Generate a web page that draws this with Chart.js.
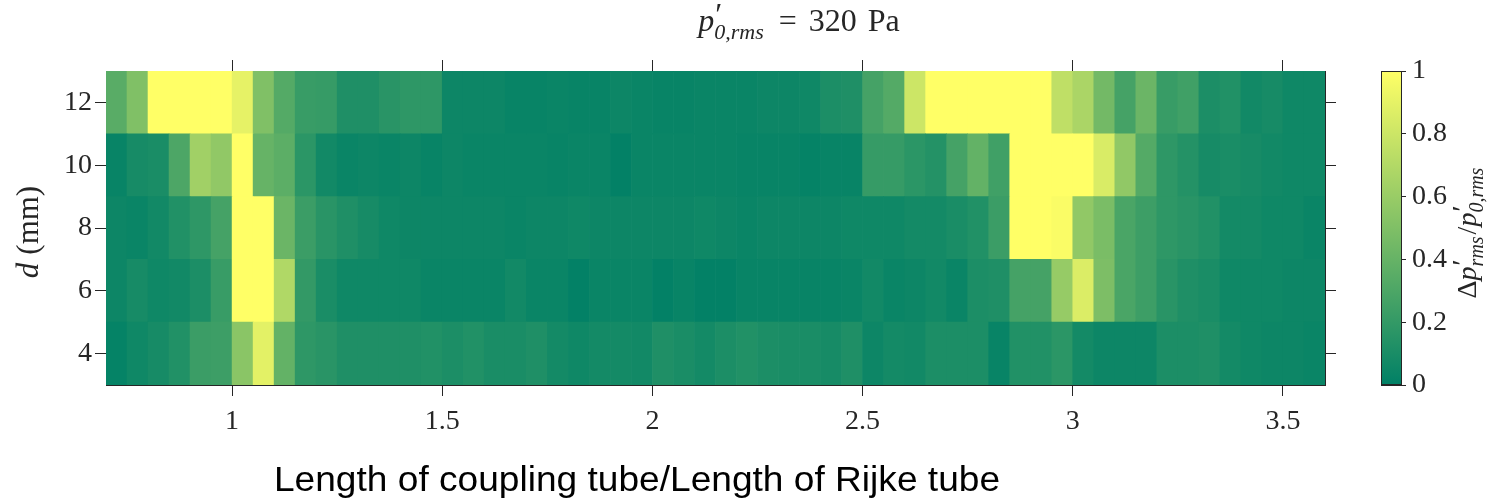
<!DOCTYPE html>
<html>
<head>
<meta charset="utf-8">
<script src="https://cdn.jsdelivr.net/npm/chart.js@4.4.1/dist/chart.umd.min.js"></script>
<style>
  html, body { margin: 0; padding: 0; background: #fff; }
  #wrap { width: 1488px; height: 504px; }
</style>
</head>
<body>
<div id="wrap"><canvas id="heat"></canvas></div>
<script>
// column centres (tube length ratio) and row centres (d, mm)
const xCenters = [0.725, 0.775, 0.825, 0.875, 0.925, 0.975, 1.025, 1.075, 1.125, 1.175,
  1.225, 1.275, 1.325, 1.375, 1.425, 1.475, 1.525, 1.575, 1.625, 1.675,
  1.725, 1.775, 1.825, 1.875, 1.925, 1.975, 2.025, 2.075, 2.125, 2.175,
  2.225, 2.275, 2.325, 2.375, 2.425, 2.475, 2.525, 2.575, 2.625, 2.675,
  2.725, 2.775, 2.825, 2.875, 2.925, 2.975, 3.025, 3.075, 3.125, 3.175,
  3.225, 3.275, 3.325, 3.375, 3.425, 3.475, 3.525, 3.575];
const dValues = [4, 6, 8, 10, 12];

// normalised pressure difference, one array per d row
const row4 = [0.02, 0.06, 0.09, 0.13, 0.23, 0.24, 0.54, 0.89, 0.39, 0.18,
  0.16, 0.12, 0.12, 0.12, 0.12, 0.13, 0.11, 0.13, 0.10, 0.10,
  0.12, 0.08, 0.06, 0.08, 0.08, 0.07, 0.12, 0.10, 0.08, 0.11,
  0.13, 0.11, 0.10, 0.10, 0.09, 0.12, 0.05, 0.08, 0.07, 0.11,
  0.11, 0.11, 0.03, 0.13, 0.13, 0.17, 0.08, 0.05, 0.05, 0.05,
  0.11, 0.11, 0.12, 0.08, 0.06, 0.05, 0.05, 0.04];
const row6 = [0.05, 0.09, 0.06, 0.07, 0.11, 0.22, 1.00, 1.00, 0.69, 0.20,
  0.10, 0.06, 0.06, 0.06, 0.06, 0.04, 0.04, 0.04, 0.04, 0.07,
  0.04, 0.04, 0.01, 0.04, 0.04, 0.04, 0.01, 0.03, 0.01, 0.01,
  0.03, 0.03, 0.03, 0.03, 0.03, 0.04, 0.07, 0.04, 0.05, 0.07,
  0.04, 0.11, 0.12, 0.27, 0.27, 0.59, 0.86, 0.49, 0.29, 0.24,
  0.16, 0.12, 0.10, 0.06, 0.06, 0.06, 0.05, 0.05];
const row8 = [0.05, 0.04, 0.07, 0.13, 0.18, 0.27, 1.00, 1.00, 0.42, 0.23,
  0.16, 0.12, 0.09, 0.06, 0.05, 0.05, 0.05, 0.05, 0.05, 0.04,
  0.05, 0.05, 0.06, 0.05, 0.05, 0.05, 0.05, 0.05, 0.06, 0.05,
  0.04, 0.05, 0.05, 0.05, 0.05, 0.06, 0.06, 0.06, 0.08, 0.08,
  0.10, 0.13, 0.23, 1.00, 1.00, 0.98, 0.57, 0.48, 0.29, 0.24,
  0.18, 0.16, 0.13, 0.08, 0.08, 0.06, 0.06, 0.04];
const row10 = [0.03, 0.09, 0.10, 0.30, 0.63, 0.57, 1.00, 0.40, 0.36, 0.17,
  0.07, 0.04, 0.05, 0.04, 0.05, 0.03, 0.05, 0.04, 0.04, 0.04,
  0.04, 0.03, 0.04, 0.04, 0.01, 0.04, 0.04, 0.04, 0.04, 0.04,
  0.03, 0.03, 0.03, 0.02, 0.03, 0.03, 0.21, 0.21, 0.17, 0.14,
  0.27, 0.39, 0.25, 1.00, 1.00, 1.00, 1.00, 0.85, 0.57, 0.33,
  0.18, 0.14, 0.09, 0.10, 0.09, 0.07, 0.06, 0.06];
const row12 = [0.35, 0.50, 1.00, 1.00, 1.00, 1.00, 0.90, 0.50, 0.33, 0.22,
  0.21, 0.12, 0.12, 0.16, 0.18, 0.18, 0.05, 0.05, 0.05, 0.03,
  0.03, 0.04, 0.03, 0.03, 0.05, 0.04, 0.03, 0.03, 0.04, 0.04,
  0.04, 0.05, 0.05, 0.06, 0.11, 0.12, 0.27, 0.33, 0.80, 1.00,
  1.00, 1.00, 1.00, 1.00, 1.00, 0.75, 0.67, 0.45, 0.27, 0.42,
  0.22, 0.25, 0.11, 0.13, 0.07, 0.09, 0.06, 0.06];
const rows = [row4, row6, row8, row10, row12];

const xTicks = [1, 1.5, 2, 2.5, 3, 3.5];
const yTicks = [4, 6, 8, 10, 12];
const cbTicks = [0, 0.2, 0.4, 0.6, 0.8, 1];

const serif = '"Liberation Serif", "DejaVu Serif", serif';
const ink = '#262626';

// MATLAB "summer" colormap
function summer(v) {
  v = Math.max(0, Math.min(1, v));
  return `rgb(${Math.round(255 * v)},${Math.round(128 + 127 * v)},102)`;
}

function fixTicks(list) {
  return s => { s.ticks = list.map(v => ({ value: v })); };
}

const datasets = dValues.map((d, k) => ({
  label: 'd = ' + d,
  data: xCenters.map((x, i) => ({ x: x, y: [d - 1, d + 1], v: rows[k][i] })),
  backgroundColor: c => (c.raw ? summer(c.raw.v) : summer(0)),
  borderWidth: 0,
  grouped: false,
  barPercentage: 1,
  categoryPercentage: 1
}));

// draws p' with sub/superscripts, returns width
function runMath(ctx, parts, x, y, size, draw) {
  let cx = x;
  const small = Math.round(size * 0.7);
  for (const p of parts) {
    if (p.gap !== undefined) {
      cx += p.gap;
    } else if (p.t !== undefined) {
      ctx.font = (p.i ? 'italic ' : '') + size + 'px ' + serif;
      if (draw) ctx.fillText(p.t, cx, y);
      cx += ctx.measureText(p.t).width;
    } else {
      ctx.font = size + 'px ' + serif;
      const w1 = ctx.measureText(p.sup).width;
      if (draw) ctx.fillText(p.sup, cx + 1, y - size * 0.18);
      ctx.font = 'italic ' + small + 'px ' + serif;
      const w2 = ctx.measureText(p.sub).width;
      if (draw) ctx.fillText(p.sub, cx, y + size * 0.25);
      cx += Math.max(w1, w2) + 2;
    }
  }
  return cx - x;
}

function drawCentered(ctx, parts, cx, y, size) {
  const w = runMath(ctx, parts, 0, 0, size, false);
  runMath(ctx, parts, cx - w / 2, y, size, true);
}

const decor = {
  id: 'decor',
  afterDatasetsDraw(chart) {
    const ctx = chart.ctx;
    const cb = chart.scales.cb;
    const top = cb.getPixelForValue(1);
    const bottom = cb.getPixelForValue(0);
    const left = cb.left;
    const w = 21;
    ctx.save();
    const g = ctx.createLinearGradient(0, bottom, 0, top);
    g.addColorStop(0, summer(0));
    g.addColorStop(1, summer(1));
    ctx.fillStyle = g;
    ctx.fillRect(left, top, w, bottom - top);
    ctx.strokeStyle = ink;
    ctx.lineWidth = 1;
    ctx.strokeRect(left + 0.5, top + 0.5, w - 1, bottom - top - 1);
    ctx.restore();
  },
  afterDraw(chart) {
    const ctx = chart.ctx;
    const midY = (chart.chartArea.top + chart.chartArea.bottom) / 2;
    ctx.save();
    ctx.fillStyle = ink;
    ctx.textBaseline = 'alphabetic';
    ctx.textAlign = 'left';

    // title
    drawCentered(ctx, [{ t: 'p', i: 1 }, { sup: '′', sub: '0,rms' }, { gap: 13 }, { t: '=' },
      { gap: 12 }, { t: '320' }, { gap: 11 }, { t: 'Pa' }], 799, 31, 32);

    // x label
    ctx.save();
    ctx.font = '35px "Liberation Sans", Arial, sans-serif';
    ctx.textAlign = 'center';
    ctx.fillStyle = '#000';
    ctx.translate(637, 491);
    ctx.scale(1.06, 1);
    ctx.fillText('Length of coupling tube/Length of Rijke tube', 0, 0);
    ctx.restore();

    // y label
    ctx.save();
    ctx.translate(38, midY + 4);
    ctx.rotate(-Math.PI / 2);
    drawCentered(ctx, [{ t: 'd', i: 1 }, { gap: 8 }, { t: '(mm)' }], 0, 0, 31);
    ctx.restore();

    // colorbar label
    ctx.save();
    ctx.translate(1476, midY + 4);
    ctx.rotate(-Math.PI / 2);
    drawCentered(ctx, [{ t: 'Δ' }, { t: 'p', i: 1 }, { sup: '′', sub: 'rms' }, { t: '/' },
      { t: 'p', i: 1 }, { sup: '′', sub: '0,rms' }], 0, 0, 28);
    ctx.restore();
    ctx.restore();
  }
};

const tickFont = { family: serif, size: 28 };

new Chart(document.getElementById('heat'), {
  type: 'bar',
  data: { datasets: datasets },
  options: {
    responsive: true,
    maintainAspectRatio: false,
    animation: false,
    layout: { padding: 0 },
    plugins: { legend: { display: false }, tooltip: { enabled: false } },
    scales: {
      x: {
        type: 'linear', position: 'bottom', min: 0.7, max: 3.6, offset: false, z: 1,
        afterBuildTicks: fixTicks(xTicks),
        afterFit: s => { s.height = 119; },
        grid: { offset: false, drawOnChartArea: false, tickLength: 11, tickColor: ink },
        border: { display: true, color: ink, width: 1 },
        ticks: { font: tickFont, color: ink, padding: 9, maxRotation: 0, autoSkip: false, callback: v => String(v) }
      },
      x2: {
        type: 'linear', position: 'top', min: 0.7, max: 3.6, offset: false, z: 1,
        afterBuildTicks: fixTicks(xTicks),
        afterFit: s => { s.height = 71; },
        grid: { offset: false, drawOnChartArea: false, tickLength: 11, tickColor: ink },
        border: { display: true, color: ink, width: 1 },
        ticks: { display: false }
      },
      y: {
        type: 'linear', position: 'left', min: 3, max: 13, z: 1,
        afterBuildTicks: fixTicks(yTicks),
        afterFit: s => { s.width = 106; },
        grid: { drawOnChartArea: false, tickLength: 11, tickColor: ink },
        border: { display: true, color: ink, width: 1 },
        ticks: { font: tickFont, color: ink, padding: 3, autoSkip: false, callback: v => String(v) }
      },
      y2: {
        type: 'linear', position: 'right', min: 3, max: 13, z: 1, weight: 0,
        afterBuildTicks: fixTicks(yTicks),
        afterFit: s => { s.width = 56; },
        grid: { drawOnChartArea: false, tickLength: 11, tickColor: ink },
        border: { display: true, color: ink, width: 1 },
        ticks: { display: false }
      },
      cb: {
        type: 'linear', position: 'right', min: 0, max: 1, weight: 1,
        afterBuildTicks: fixTicks(cbTicks),
        afterFit: s => { s.width = 107; },
        grid: { drawOnChartArea: false, tickLength: 25, tickColor: ink },
        border: { display: false },
        ticks: { font: tickFont, color: ink, padding: 6, autoSkip: false, callback: v => String(v) }
      }
    }
  },
  plugins: [decor]
});
</script>
</body>
</html>
